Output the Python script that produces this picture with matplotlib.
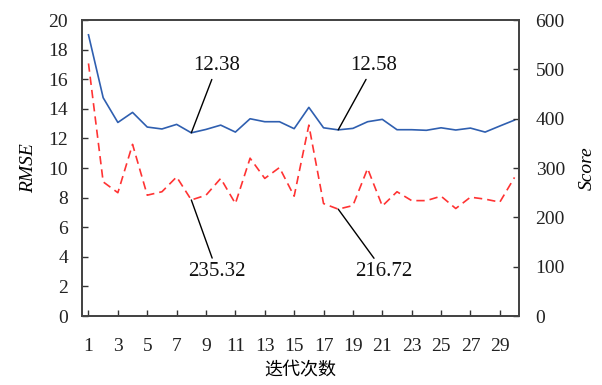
import matplotlib.pyplot as plt

plt.rcParams['font.family'] = ['Liberation Serif', 'Noto Sans CJK SC']

iters = list(range(1, 31))
rmse = [19.0, 14.75, 13.08, 13.76, 12.77, 12.64, 12.95, 12.38, 12.61, 12.9,
        12.43, 13.33, 13.13, 13.13, 12.66, 14.1, 12.72, 12.58, 12.68, 13.13,
        13.29, 12.59, 12.59, 12.55, 12.72, 12.57, 12.7, 12.43, 12.84, 13.24]
score = [512, 272, 250, 348, 245, 252, 282, 235.32, 245, 279,
         228, 320, 279, 301, 243, 387, 228, 216.72, 224, 299,
         223, 252, 234, 234, 243, 218, 241, 237, 231, 281]
xticks = list(range(1, 30, 2))

fig = plt.figure(figsize=(6.02, 3.85), dpi=100)
ax = fig.add_axes([0.136, 0.179, 0.726, 0.769])
ax2 = ax.twinx()

ax.plot(iters, rmse, color='#2f5fb0', lw=1.2)
ax2.plot(iters, score, color='#ff3333', lw=1.2, ls=(0, (5, 3)))

ax.set_xlim(0.55, 30.3)
ax.set_ylim(0, 20)
ax2.set_ylim(0, 600)
ax.set_xticks(xticks)
ax.set_yticks(range(0, 21, 2))
ax2.set_yticks(range(0, 601, 100))

for a in (ax, ax2):
    a.tick_params(direction='in', length=4, width=1, labelsize=14, colors='#333333',
                  labelcolor='#222222')
    for s in a.spines.values():
        s.set_color('#444444')
        s.set_linewidth(1.3)
ax.tick_params(axis='x', pad=16)
ax.tick_params(axis='y', pad=10)
ax2.tick_params(axis='y', pad=12)

ax.set_ylabel('RMSE', style='italic', fontsize=14, labelpad=8)
ax2.set_ylabel('Score', style='italic', fontsize=14, labelpad=10)
ax.set_xlabel('迭代次数', fontsize=13, family=['Noto Sans CJK SC'], labelpad=4)

kw = dict(fontsize=15, ha='center', va='center', color='#111111',
          arrowprops=dict(arrowstyle='-', color='black', lw=1, shrinkA=1, shrinkB=0))
ax.annotate('12.38', xy=(8, rmse[7]), xytext=(9.75, 16.9), **kw)
ax.annotate('12.58', xy=(18, rmse[17]), xytext=(20.4, 16.9), **kw)
ax2.annotate('235.32', xy=(8, score[7]), xytext=(9.75, 90), **kw)
ax2.annotate('216.72', xy=(18, score[17]), xytext=(21.1, 90), **kw)

fig.savefig('out.png', dpi=100)
